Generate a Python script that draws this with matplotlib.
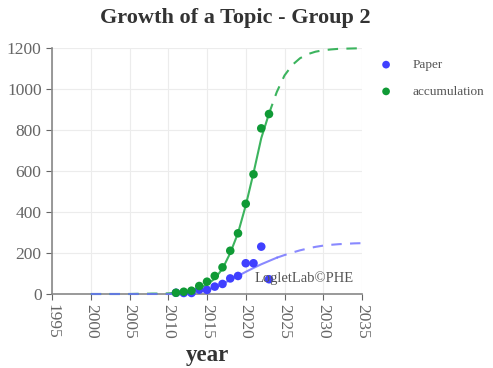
import matplotlib
matplotlib.use("Agg")
import matplotlib.pyplot as plt

# ---- data ----
paper_years = [2011, 2012, 2013, 2014, 2015, 2016, 2017, 2018, 2019, 2020, 2021, 2022, 2023]
paper_vals = [6, 5, 5, 21, 20, 36, 49, 76, 88, 150, 150, 231, 72]

accum_years = [2011, 2012, 2013, 2014, 2015, 2016, 2017, 2018, 2019, 2020, 2021, 2022, 2023]
accum_vals = [6, 11, 16, 39, 60, 88, 130, 211, 296, 440, 584, 808, 878]

fit_years = [2000, 2001, 2002, 2003, 2004, 2005, 2006, 2007, 2008, 2009, 2010, 2011,
             2012, 2013, 2014, 2015, 2016, 2017, 2018, 2019, 2020, 2021, 2022, 2023,
             2024, 2025, 2026, 2027, 2028, 2029, 2030, 2031, 2032, 2033, 2034, 2035]
accum_fit = [0, 0, 0, 0, 0, 0, 1, 1, 2, 2, 3, 6,
             10, 16, 27, 46, 75, 123, 200, 297, 432, 590, 760, 880,
             985, 1066, 1117, 1150, 1170, 1182, 1189, 1193, 1196, 1197, 1198, 1199]
paper_fit = [0, 0, 0, 0, 0, 0, 0, 0, 0, 0, 0, 1,
             2, 3, 6, 18, 33, 50, 68, 88, 108, 127, 145, 161,
             177, 190, 202, 213, 222, 230, 236, 240, 243, 245, 247, 248]

accum_solid = (2011, 2023)
paper_solid = (2015, 2024)

x_ticks = [1995, 2000, 2005, 2010, 2015, 2020, 2025, 2030, 2035]
y_ticks = [0, 200, 400, 600, 800, 1000, 1200]

title = "Growth of a Topic - Group 2"
xlabel = "year"
watermark = "LogletLab©PHE"

BLUE = "#4040ff"
BLUE_L = "#6c6cff"
GREEN = "#0f9a35"
GREEN_L = "#3cb45e"
GRAY = "#666666"

plt.rcParams['font.family'] = ['Liberation Serif', 'DejaVu Serif']

fig = plt.figure(figsize=(4.93, 3.68), dpi=100)
ax = fig.add_axes([52/493, 1-294/368, 310/493, 246/368])


def split(years, vals, lo, hi):
    solid = [(y, v) for y, v in zip(years, vals) if lo <= y <= hi]
    before = [(y, v) for y, v in zip(years, vals) if y <= lo]
    after = [(y, v) for y, v in zip(years, vals) if y >= hi]
    return before, solid, after


for vals, (lo, hi), col, a in [(accum_fit, accum_solid, GREEN_L, 1.0),
                               (paper_fit, paper_solid, BLUE_L, 0.8)]:
    b, s, af = split(fit_years, vals, lo, hi)
    for seg, ls in [(b, (0, (5, 4))), (af, (0, (5, 4))), (s, '-')]:
        ax.plot([p[0] for p in seg], [p[1] for p in seg], color=col, lw=1.5,
                linestyle=ls, zorder=3, alpha=a, clip_on=False)

ax.scatter(paper_years, paper_vals, s=38, color=BLUE, zorder=4, label="Paper",
           edgecolors='none', clip_on=False)
ax.scatter(accum_years, accum_vals, s=38, color=GREEN, zorder=5, label="accumulation",
           edgecolors='none', clip_on=False)

ax.set_xlim(1995, 2035)
ax.set_ylim(0, 1200)
ax.set_xticks(x_ticks)
ax.set_yticks(y_ticks)
ax.set_xticklabels([str(t) for t in x_ticks], rotation=-90)
ax.tick_params(axis='both', colors=GRAY, labelsize=12.5, length=4, direction='out')
ax.grid(True, color="#ececec", lw=0.8)
ax.set_axisbelow(True)
for sp in ['top', 'right']:
    ax.spines[sp].set_visible(False)
for sp in ['left', 'bottom']:
    ax.spines[sp].set_color("#888888")
    ax.spines[sp].set_linewidth(1.2)
    ax.spines[sp].set_zorder(2)

ax.set_xlabel(xlabel, fontsize=16.5, fontweight='bold', color="#333333", labelpad=4)
fig.text(0.5 * (98 + 372) / 493, 1 - 18/368, title, ha='center', va='center',
         fontsize=16, fontweight='bold', color="#333333")
ax.text(2027.5, 78, watermark, ha='center', va='center', fontsize=10.5, color="#555555",
        zorder=6)

leg = fig.legend(loc='upper left', bbox_to_anchor=(361/493, 1 - 47/368), frameon=False,
                 fontsize=9.5, labelcolor="#555555", handletextpad=1.0,
                 labelspacing=1.1, markerscale=0.9)

fig.savefig("out.png", dpi=100)
